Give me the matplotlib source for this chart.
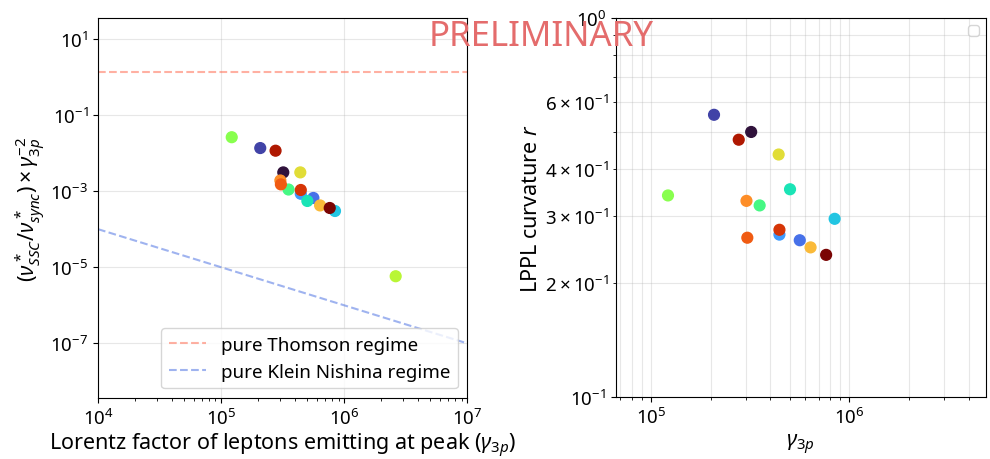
import numpy as np
import matplotlib
matplotlib.use("Agg")
import matplotlib.pyplot as plt

plt.rcParams['font.family'] = ['Noto Sans', 'DejaVu Sans']
plt.rcParams['mathtext.fontset'] = 'custom'
plt.rcParams['mathtext.rm'] = 'Noto Sans'
plt.rcParams['mathtext.it'] = 'Noto Sans:italic'

# one entry per fitted flare, ordered by colour index
gamma_3p = [3.2e5, 2.08e5, 5.62e5, 4.44e5, 8.42e5, 5.02e5, 3.53e5, 1.22e5,
            2.62e6, 4.4e5, 6.37e5, 3.03e5, 3.06e5, 4.44e5, 2.77e5, 7.63e5]
nu_ratio = [3.1e-3, 1.35e-2, 6.6e-4, 8.5e-4, 3.0e-4, 5.5e-4, 1.1e-3, 2.6e-2,
            5.8e-6, 3.1e-3, 4.2e-4, 1.9e-3, 1.5e-3, 1.07e-3, 1.15e-2, 3.6e-4]
curvature = [0.500, 0.555, 0.259, 0.268, 0.295, 0.353, 0.320, 0.340,
             np.nan, 0.436, 0.248, 0.329, 0.263, 0.276, 0.477, 0.237]

gamma_line = np.logspace(4, 7, 100)
thomson = np.full_like(gamma_line, 4 / 3)
klein_nishina = 1 / gamma_line

colors = plt.cm.turbo(np.linspace(0, 1, len(gamma_3p)))

fig = plt.figure(figsize=(9.9, 4.6), dpi=100)
ax1 = fig.add_axes([0.099, 0.133, 0.373, 0.826])
ax2 = fig.add_axes([0.622, 0.135, 0.374, 0.824])

# left: frequency ratio vs gamma
ax1.plot(gamma_line, thomson, '--', color='tomato', alpha=0.5, label='pure Thomson regime')
ax1.plot(gamma_line, klein_nishina, '--', color='royalblue', alpha=0.5, label='pure Klein Nishina regime')
ax1.scatter(gamma_3p, nu_ratio, c=colors, s=60, zorder=3)
ax1.set_xscale('log')
ax1.set_yscale('log')
ax1.set_xlim(1e4, 1e7)
ax1.set_ylim(10**-8.43, 10**1.55)
ax1.grid(True, which='major', alpha=0.3)
ax1.set_xlabel(r'Lorentz factor of leptons emitting at peak ($\gamma_{3p}$)', fontsize=15.5, labelpad=2)
ax1.set_ylabel(r'$(\nu^*_{SSC}/\nu^*_{sync})\times\gamma_{3p}^{-2}$', fontsize=15.5, labelpad=2)
ax1.tick_params(labelsize=13.5)
ax1.legend(loc='lower right', fontsize=13.5)

# right: curvature vs gamma
ax2.scatter(gamma_3p, curvature, c=colors, s=60, zorder=3)
ax2.set_xscale('log')
ax2.set_yscale('log')
ax2.set_xlim(6.66e4, 4.87e6)
ax2.set_ylim(0.1, 1)
ax2.grid(True, which='both', alpha=0.3)
ax2.set_xlabel(r'$\gamma_{3p}$', fontsize=15.5)
ax2.set_ylabel(r'LPPL curvature $r$', fontsize=15.5, labelpad=2)
ax2.tick_params(which='both', labelsize=13.5)
ax2.legend(loc='upper right')

fig.text(0.547, 0.92, 'PRELIMINARY', color='#e46c6c', fontsize=25,
         ha='center', va='center', zorder=10)

fig.savefig('out.png', dpi=100)
